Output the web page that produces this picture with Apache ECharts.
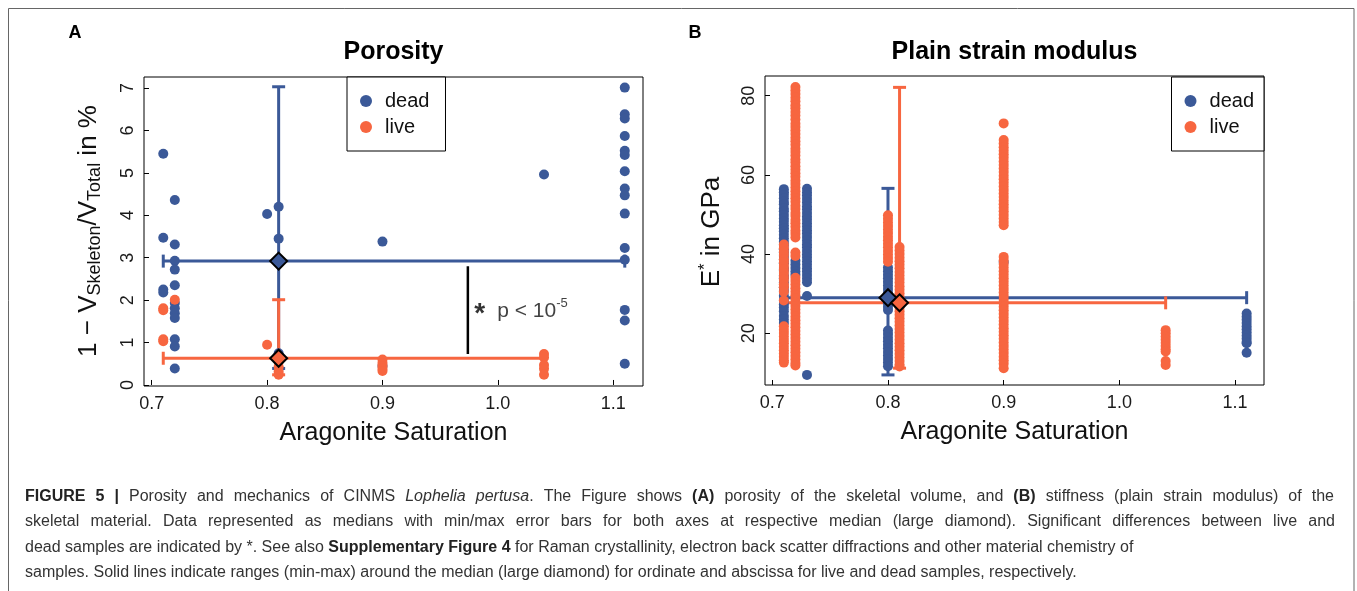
<!DOCTYPE html>
<html><head><meta charset="utf-8">
<script src="https://cdn.jsdelivr.net/npm/echarts@6/dist/echarts.min.js"></script>
<style>html,body{margin:0;padding:0;background:#fff}#c{width:1357px;height:591px}</style>
</head><body><div id="c"></div>
<script>
// ---------- data ----------
const xTicks = [0.7, 0.8, 0.9, 1.0, 1.1];
const porosityTicks = [0, 1, 2, 3, 4, 5, 6, 7];
const modulusTicks = [20, 40, 60, 80];

// Panel A: porosity (%) as [aragonite saturation, value]
const porosityDead = [
  [0.71, 5.45], [0.71, 3.47], [0.71, 2.25], [0.71, 2.18],
  [0.72, 4.36], [0.72, 3.31], [0.72, 2.93], [0.72, 2.72], [0.72, 2.35], [0.72, 1.93], [0.72, 1.81],
  [0.72, 1.69], [0.72, 1.58], [0.72, 1.08], [0.72, 0.91], [0.72, 0.39],
  [0.80, 4.03],
  [0.81, 4.2], [0.81, 3.45], [0.81, 0.75], [0.81, 0.63], [0.81, 0.39],
  [0.90, 3.38], [0.90, 0.45],
  [1.04, 4.96],
  [1.11, 7.01], [1.11, 6.38], [1.11, 6.28], [1.11, 5.87], [1.11, 5.52], [1.11, 5.42], [1.11, 5.04],
  [1.11, 4.63], [1.11, 4.47], [1.11, 4.04], [1.11, 3.23], [1.11, 2.95], [1.11, 1.77], [1.11, 1.52], [1.11, 0.5]
];
const porosityLive = [
  [0.71, 1.81], [0.71, 1.76], [0.71, 1.08], [0.71, 1.03],
  [0.72, 2.01],
  [0.80, 0.95],
  [0.81, 0.67], [0.81, 0.55], [0.81, 0.43], [0.81, 0.31], [0.81, 0.24],
  [0.90, 0.6], [0.90, 0.52], [0.90, 0.45], [0.90, 0.38], [0.90, 0.33],
  [1.04, 0.73], [1.04, 0.65], [1.04, 0.47], [1.04, 0.38], [1.04, 0.24]
];
// error bars: [xMin, xMax, xMedian, yMin, yMax, yMedian]
const porosityDeadBar = [0.71, 1.11, 0.81, 0.39, 7.03, 2.92];
const porosityLiveBar = [0.71, 1.04, 0.81, 0.24, 2.01, 0.63];
const sigLine = [[0.974, 0.73], [0.974, 2.8]];
const sigLabelAt = [0.977, 1.75];

// Panel B: plain strain modulus (GPa), strips per aragonite saturation
const dead071 = [56.4, 55.6, 54.9, 54.1, 53.2, 52.6, 51.5, 50.8, 49.9, 49.0, 48.2, 47.3, 46.5, 45.8, 44.9, 44.0, 43.1, 42.3, 41.2, 40.4, 39.5, 38.6, 37.7, 36.5, 35.8, 34.6, 33.9, 32.8, 31.6, 30.7, 29.5, 28.4, 27.3, 26.5, 25.6, 24.4, 23.5, 22.6];
const dead072 = [38.3, 37.4, 36.5, 35.6, 34.8];
const dead073 = [56.5, 55.6, 54.8, 53.9, 53.0, 52.1, 51.3, 50.4, 49.5, 48.7, 47.8, 46.9, 46.0, 45.2, 44.3, 43.4, 42.5, 41.7, 40.8, 39.9, 39.1, 38.2, 37.3, 36.4, 35.6, 34.7, 33.8, 32.9, 29.4, 9.5];
const dead080 = [36.6, 35.7, 34.8, 33.9, 33.0, 32.1, 31.2, 30.3, 29.4, 28.5, 27.6, 26.7, 25.9, 20.7, 19.8, 18.9, 18.0, 17.1, 16.2, 15.3, 14.4, 13.5, 12.6, 11.7];
const dead090 = [38.0];
const dead111 = [25.0, 24.2, 23.4, 22.6, 21.8, 21.0, 20.2, 19.4, 18.6, 17.8, 17.5, 15.1];
const live071 = [42.4, 41.5, 40.6, 39.8, 38.7, 37.9, 37.0, 36.1, 35.2, 34.3, 33.5, 32.4, 31.6, 30.5, 28.3, 21.8, 20.9, 20.1, 19.2, 18.3, 17.5, 16.6, 15.7, 14.9, 14.1, 13.2, 12.6];
const live072 = [82.2, 81.3, 80.4, 79.5, 78.6, 77.6, 76.8, 75.9, 75.0, 74.0, 72.9, 72.1, 71.2, 70.3, 69.4, 68.5, 67.6, 66.6, 65.8, 64.9, 63.9, 63.1, 62.2, 61.3, 60.4, 59.5, 58.5, 57.7, 56.8, 55.9, 55.0, 54.1, 53.2, 52.2, 51.4, 50.4, 49.6, 48.6, 47.8, 46.9, 45.9, 45.1, 44.2, 40.4, 39.5, 34.0, 33.2, 32.3, 31.4, 30.5, 29.6, 28.7, 27.8, 26.9, 26.0, 25.1, 24.2, 23.3, 22.4, 21.5, 20.6, 19.7, 18.8, 17.9, 17.0, 16.1, 15.2, 14.3, 13.4, 12.5, 11.9];
const live080 = [49.8, 48.9, 48.0, 47.1, 46.2, 45.3, 44.4, 43.5, 42.6, 41.7, 40.8, 39.9, 39.0, 38.1];
const live081 = [41.8, 40.9, 40.0, 39.1, 38.2, 37.3, 36.4, 35.5, 34.6, 33.7, 32.8, 31.9, 31.0, 30.1, 29.2, 28.3, 27.4, 26.5, 25.6, 24.7, 23.8, 22.9, 22.0, 21.1, 20.2, 19.3, 18.4, 17.5, 16.6, 15.7, 14.8, 13.9, 13.0, 12.1, 11.6];
const live090 = [73.0, 68.8, 67.9, 67.0, 66.1, 65.2, 64.3, 63.4, 62.5, 61.6, 60.7, 59.8, 58.9, 58.0, 57.1, 56.2, 55.3, 54.4, 53.5, 52.6, 51.7, 50.8, 49.9, 49.0, 48.1, 47.3, 39.3, 38.4, 37.5, 36.6, 35.7, 34.8, 33.9, 33.0, 32.1, 31.2, 30.3, 29.4, 28.5, 27.6, 26.7, 25.8, 24.9, 24.0, 23.1, 22.2, 21.3, 20.4, 19.5, 18.6, 17.7, 16.8, 15.9, 15.0, 14.1, 13.2, 12.3, 11.2];
const live104 = [20.8, 20.0, 19.2, 18.4, 17.6, 16.8, 16.0, 15.4, 13.0, 12.0];
const modulusDeadBar = [0.71, 1.11, 0.80, 9.5, 56.6, 29.0];
const modulusLiveBar = [0.71, 1.04, 0.81, 11.2, 82.1, 27.7];

// caption lines ({b|..} bold, {i|..} italic)
const captionLines = [
  '{b|FIGURE 5 |} Porosity and mechanics of CINMS {i|Lophelia pertusa}. The Figure shows {b|(A)} porosity of the skeletal volume, and {b|(B)} stiffness (plain strain modulus) of the',
  'skeletal material. Data represented as medians with min/max error bars for both axes at respective median (large diamond). Significant differences between live and',
  'dead samples are indicated by *. See also {b|Supplementary Figure 4} for Raman crystallinity, electron back scatter diffractions and other material chemistry of',
  'samples. Solid lines indicate ranges (min-max) around the median (large diamond) for ordinate and abscissa for live and dead samples, respectively.'
];

// ---------- chart ----------
const FONT = "'Liberation Sans', Arial, sans-serif";
const DEAD = '#3B5998';
const LIVE = '#F76640';
const CAP = 16;

function strip(x, ys) { return ys.map(v => [x, v]); }
const modulusDead = [].concat(strip(0.71, dead071), strip(0.72, dead072), strip(0.73, dead073),
  strip(0.80, dead080), strip(0.90, dead090), strip(1.11, dead111));
const modulusLive = [].concat(strip(0.71, live071), strip(0.72, live072), strip(0.80, live080),
  strip(0.81, live081), strip(0.90, live090), strip(1.04, live104));

function errorBar(color) {
  return function (params, api) {
    const xMin = api.value(0), xMax = api.value(1), xMed = api.value(2);
    const yMin = api.value(3), yMax = api.value(4), yMed = api.value(5);
    const L = api.coord([xMin, yMed]), R = api.coord([xMax, yMed]);
    const B = api.coord([xMed, yMin]), T = api.coord([xMed, yMax]);
    const c = 6.5;
    const st = { stroke: color, lineWidth: 3 };
    const ln = (x1, y1, x2, y2) => ({ type: 'line', shape: { x1, y1, x2, y2 }, style: st });
    return {
      type: 'group', children: [
        ln(L[0], L[1], R[0], R[1]),
        ln(L[0], L[1] - c, L[0], L[1] + c),
        ln(R[0], R[1] - c, R[0], R[1] + c),
        ln(B[0], B[1], T[0], T[1]),
        ln(B[0] - c, B[1], B[0] + c, B[1]),
        ln(T[0] - c, T[1], T[0] + c, T[1])
      ]
    };
  };
}

function xAxisCfg(gridIndex, min, max) {
  return {
    type: 'value', gridIndex, min, max,
    axisLine: { show: false }, splitLine: { show: false },
    axisTick: { inside: true, length: 5, lineStyle: { color: '#000', width: 1 }, customValues: xTicks },
    axisLabel: { customValues: xTicks, formatter: v => v.toFixed(1), fontSize: 18, color: '#1a1a1a', fontFamily: FONT, margin: 9 },
    name: 'Aragonite Saturation', nameLocation: 'middle', nameGap: 35,
    nameTextStyle: { fontSize: 25, color: '#111', fontFamily: FONT }
  };
}
function yAxisCfg(gridIndex, min, max, ticks) {
  return {
    type: 'value', gridIndex, min, max,
    axisLine: { show: false }, splitLine: { show: false },
    axisTick: { inside: true, length: 5, lineStyle: { color: '#000', width: 1 }, customValues: ticks },
    axisLabel: { customValues: ticks, rotate: 90, fontSize: 18, color: '#1a1a1a', fontFamily: FONT, margin: 7 }
  };
}
function legendCfg(pos, padRight) {
  return Object.assign({
    data: ['dead', 'live'], orient: 'vertical', top: 77, selectedMode: false,
    padding: [14, padRight, 14, 13], itemGap: 6, itemWidth: 12, itemHeight: 12, icon: 'circle',
    borderColor: '#000', borderWidth: 1, backgroundColor: '#fff',
    textStyle: { fontSize: 20, color: '#111', fontFamily: FONT, lineHeight: 20, padding: [0, 0, 0, 8] }
  }, pos);
}
function scatter(name, xi, data, color) {
  return { name, type: 'scatter', xAxisIndex: xi, yAxisIndex: xi, data, symbolSize: 10,
    itemStyle: { color, opacity: 1 }, silent: true };
}
function bars(xi, data, color) {
  return { name: 'range', type: 'custom', xAxisIndex: xi, yAxisIndex: xi, data: [data],
    encode: { x: [0, 1, 2], y: [3, 4, 5] }, renderItem: errorBar(color), clip: false, silent: true };
}
function median(xi, bar, color) {
  return { name: 'median', type: 'scatter', xAxisIndex: xi, yAxisIndex: xi, data: [[bar[2], bar[5]]],
    symbol: 'diamond', symbolSize: 17, itemStyle: { color, borderColor: '#000', borderWidth: 2, opacity: 1 }, silent: true, z: 5 };
}

// caption: word-by-word layout so the first lines can be justified like the original
const measureCtx = document.createElement('canvas').getContext('2d');
function capFont(st) { return (st === 'b' ? 'bold ' : st === 'i' ? 'italic ' : '') + CAP + 'px ' + FONT; }
function captionLine(y, str, rightEdge) {
  const chunks = [[]];
  const re = /\{(\w)\|([^}]*)\}|([^{]+)/g;
  let m;
  while ((m = re.exec(str))) {
    const st = m[1] || 'n';
    const txt = m[1] ? m[2] : m[3];
    const parts = txt.split(' ');
    parts.forEach((p, k) => {
      if (k > 0) chunks.push([]);
      if (p) chunks[chunks.length - 1].push([p, st]);
    });
  }
  const words = chunks.filter(c => c.length);
  const widthOf = piece => { measureCtx.font = capFont(piece[1]); return measureCtx.measureText(piece[0]).width; };
  const wWidths = words.map(w => w.reduce((s, p) => s + widthOf(p), 0));
  measureCtx.font = capFont('n');
  let gap = measureCtx.measureText(' ').width;
  if (rightEdge) {
    const total = wWidths.reduce((a, b) => a + b, 0);
    gap = (rightEdge - 25 - total) / (words.length - 1);
  }
  const els = [];
  let x = 25;
  words.forEach((w, i) => {
    w.forEach(p => {
      els.push({ type: 'text', x, y, silent: true, style: { text: p[0], font: capFont(p[1]),
        fill: p[1] === 'b' ? '#222' : '#333', verticalAlign: 'middle' } });
      x += widthOf(p);
    });
    x += gap;
  });
  return els;
}

const captionEls = [].concat(
  captionLine(497, captionLines[0], 1334),
  captionLine(522, captionLines[1], 1335),
  captionLine(548, captionLines[2], null),
  captionLine(573, captionLines[3], null)
);

const chart = echarts.init(document.getElementById('c'), null, { renderer: 'canvas' });
chart.setOption({
  animation: false,
  backgroundColor: '#fff',
  textStyle: { fontFamily: FONT },
  grid: [
    { left: 144, top: 77, width: 499, height: 309, show: true, borderColor: '#000', borderWidth: 1, backgroundColor: 'transparent' },
    { left: 765, top: 76, width: 499, height: 309, show: true, borderColor: '#000', borderWidth: 1, backgroundColor: 'transparent' }
  ],
  xAxis: [xAxisCfg(0, 0.6933, 1.1258), xAxisCfg(1, 0.6937, 1.125)],
  yAxis: [yAxisCfg(0, -0.024, 7.26, porosityTicks), yAxisCfg(1, 6.95, 84.97, modulusTicks)],
  legend: [legendCfg({ left: 347 }, 16), legendCfg({ right: 93 }, 10)],
  series: [
    scatter('dead', 0, porosityDead, DEAD),
    scatter('live', 0, porosityLive, LIVE),
    bars(0, porosityDeadBar, DEAD),
    bars(0, porosityLiveBar, LIVE),
    median(0, porosityDeadBar, DEAD),
    median(0, porosityLiveBar, LIVE),
    { name: 'sig', type: 'line', xAxisIndex: 0, yAxisIndex: 0, data: sigLine, symbol: 'none',
      lineStyle: { color: '#000', width: 2.5 }, silent: true },
    { name: 'sigLabel', type: 'scatter', xAxisIndex: 0, yAxisIndex: 0, data: [sigLabelAt], symbolSize: 0, silent: true,
      label: { show: true, position: 'right', distance: 3, formatter: '{s|*}{t|p < 10}{u|-5}',
        rich: {
          s: { fontSize: 28, fontWeight: 'bold', color: '#000', lineHeight: 28, padding: [8, 12, 0, 0] },
          t: { fontSize: 21, color: '#111', lineHeight: 28, fontFamily: FONT },
          u: { fontSize: 13, color: '#111', lineHeight: 14, verticalAlign: 'top', fontFamily: FONT }
        } } },
    scatter('dead', 1, modulusDead, DEAD),
    scatter('live', 1, modulusLive, LIVE),
    bars(1, modulusDeadBar, DEAD),
    bars(1, modulusLiveBar, LIVE),
    median(1, modulusDeadBar, DEAD),
    median(1, modulusLiveBar, LIVE)
  ],
  graphic: [
    { type: 'rect', shape: { x: 8.5, y: 8.5, width: 1345.5, height: 620 }, style: { fill: 'none', stroke: '#666', lineWidth: 1 }, silent: true },
    { type: 'text', x: 75, y: 33, style: { text: 'A', font: "bold 18px " + FONT, fill: '#000', align: 'center', verticalAlign: 'middle' } },
    { type: 'text', x: 695, y: 33, style: { text: 'B', font: "bold 18px " + FONT, fill: '#000', align: 'center', verticalAlign: 'middle' } },
    { type: 'text', x: 393.5, y: 52, style: { text: 'Porosity', font: "bold 25px " + FONT, fill: '#000', align: 'center', verticalAlign: 'middle' } },
    { type: 'text', x: 1014.5, y: 52, style: { text: 'Plain strain modulus', font: "bold 25px " + FONT, fill: '#000', align: 'center', verticalAlign: 'middle' } },
    { type: 'text', x: 89, y: 231, rotation: Math.PI / 2,
      style: { text: '{m|1 − V}{s|Skeleton}{m|/V}{s|Total}{m| in %}', align: 'center', verticalAlign: 'middle',
        rich: {
          m: { fontSize: 26, fontFamily: FONT, fill: '#111', lineHeight: 30 },
          s: { fontSize: 18, fontFamily: FONT, fill: '#111', lineHeight: 16, verticalAlign: 'bottom' }
        } } },
    { type: 'text', x: 712, y: 232, rotation: Math.PI / 2,
      style: { text: '{m|E}{p|*}{m| in GPa}', align: 'center', verticalAlign: 'middle',
        rich: {
          m: { fontSize: 26, fontFamily: FONT, fill: '#111', lineHeight: 30 },
          p: { fontSize: 17, fontFamily: FONT, fill: '#111', lineHeight: 12, verticalAlign: 'top' }
        } } }
  ].concat(captionEls)
});
</script></body></html>
